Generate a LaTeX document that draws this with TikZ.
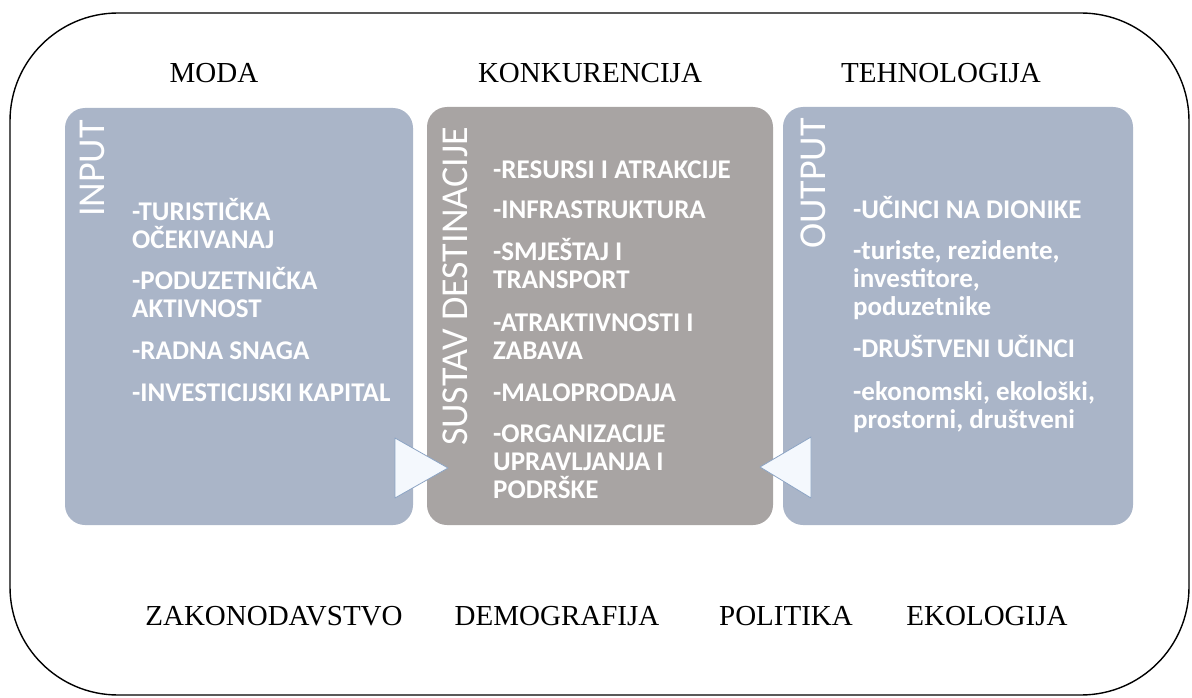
\documentclass[tikz,border=0pt]{standalone}
\usepackage{fontspec}
\setmainfont{Liberation Serif}
\newfontfamily\boxfont{Carlito}
\usetikzlibrary{positioning}

\definecolor{inputblue}{RGB}{170,181,200}
\definecolor{systemgray}{RGB}{168,164,163}
\definecolor{tipfill}{RGB}{244,248,253}
\definecolor{tipline}{RGB}{140,164,196}

\tikzset{
    stagebox/.style={rectangle, rounded corners=20pt, inner sep=0pt},
    stagetitle/.style={rotate=90, anchor=base east, inner sep=0pt, text=white,
        font=\boxfont\fontsize{38}{38}\selectfont},
    stageitems/.style={anchor=north west, inner sep=0pt, align=left, text=white,
        font=\boxfont\bfseries\fontsize{27}{28}\selectfont},
    factor/.style={anchor=base, inner sep=0pt, font=\fontsize{29}{30}\selectfont},
    flowtip/.style={fill=tipfill, draw=tipline, line width=0.8pt, line join=round}
}

\begin{document}
\begin{tikzpicture}[x=1pt, y=-1pt]
    \useasboundingbox (0,0) rectangle (1192,698);
    \draw[line width=1.4pt, rounded corners=108pt] (10,13) rectangle (1189,695);

    % okolina
    \node[factor] (moda) at (214,83) {MODA};
    \node[factor] (konk) at (590,83) {KONKURENCIJA};
    \node[factor] (tehn) at (941,83) {TEHNOLOGIJA};
    \node[factor] (zakon) at (274,625) {ZAKONODAVSTVO};
    \node[factor] (demo) at (557,625) {DEMOGRAFIJA};
    \node[factor] (polit) at (786,625) {POLITIKA};
    \node[factor] (ekol) at (987,625) {EKOLOGIJA};

    % sustav
    \node[stagebox, fill=inputblue, minimum width=348pt, minimum height=417pt] (input) at (239,316.5) {};
    \node[stagebox, fill=systemgray, minimum width=346pt, minimum height=418pt] (sustav) at (600,316) {};
    \node[stagebox, fill=inputblue, minimum width=350pt, minimum height=418pt] (output) at (958,316) {};

    \node[stagetitle] (inputlbl) at (104,120) {INPUT};
    \node[stagetitle] (sustavlbl) at (467,127) {SUSTAV DESTINACIJE};
    \node[stagetitle] (outputlbl) at (825,118) {OUTPUT};

    \node[stageitems] (inputtxt) at (132,198) {-TURISTIČKA\\OČEKIVANAJ\\[13pt]-PODUZETNIČKA\\AKTIVNOST\\[14pt]-RADNA SNAGA\\[14pt]-INVESTICIJSKI KAPITAL};
    \node[stageitems] (sustavtxt) at (493,161) {-RESURSI I ATRAKCIJE\\[12pt]-INFRASTRUKTURA\\[14pt]-SMJEŠTAJ I\\TRANSPORT\\[15pt]-ATRAKTIVNOSTI I\\ZABAVA\\[14pt]-MALOPRODAJA\\[13pt]-ORGANIZACIJE\\UPRAVLJANJA I\\PODRŠKE};
    \node[stageitems] (outputtxt) at (853,196) {-UČINCI NA DIONIKE\\[13pt]-turiste, rezidente,\\investitore,\\poduzetnike\\[14pt]-DRUŠTVENI UČINCI\\[15pt]-ekonomski, ekološki,\\prostorni, društveni};

    \draw[flowtip] (395,438) -- (448,468) -- (395,498) -- cycle;
    \draw[flowtip] (811,437) -- (760,467) -- (811,498) -- cycle;
\end{tikzpicture}
\end{document}
